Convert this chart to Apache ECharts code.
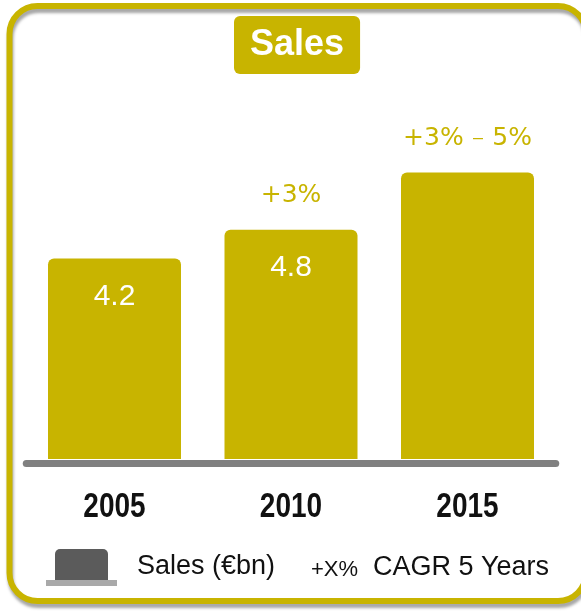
<!DOCTYPE html>
<html>
<head>
<meta charset="utf-8">
<script src="https://cdn.jsdelivr.net/npm/echarts@6/dist/echarts.min.js"></script>
<style>
  html, body { margin: 0; padding: 0; background: #ffffff; }
  #chart { width: 581px; height: 612px; }
</style>
</head>
<body>
<div id="chart"></div>
<script>
// Sales in € billions per year, with the five-year CAGR shown above each bar
const years = ['2005', '2010', '2015'];
const sales = [4.2, 4.8, 6.0];
const showValue = [true, true, false];
const cagr = [[], ['+3%'], ['+3%', '5%']];

const GOLD = '#c8b400';
const SANS = "'Liberation Sans', Arial, Helvetica, sans-serif";

const chart = echarts.init(document.getElementById('chart'), null, { renderer: 'canvas' });

chart.setOption({
  animation: false,
  backgroundColor: '#ffffff',
  title: {
    text: 'Sales',
    left: 234,
    top: 16,
    backgroundColor: GOLD,
    borderRadius: 6,
    padding: [11, 16, 11, 16],
    textStyle: {
      color: '#ffffff',
      fontFamily: SANS,
      fontWeight: 'bold',
      fontSize: 36,
      lineHeight: 36
    }
  },
  grid: { left: 26.25, right: 25.25, top: 77, bottom: 153 },
  xAxis: {
    type: 'category',
    data: years,
    offset: 4,
    axisLine: { onZero: false, lineStyle: { color: '#808080', width: 7 } },
    axisTick: { show: false },
    // year labels are drawn below as condensed text placed on the category positions
    axisLabel: { show: false }
  },
  yAxis: {
    type: 'value',
    min: 0,
    max: 8,
    show: false,
    splitLine: { show: false }
  },
  series: [
    {
      name: 'Sales (€bn)',
      type: 'bar',
      barWidth: 133,
      data: sales.map((v, i) => ({
        value: v,
        label: { show: showValue[i] }
      })),
      itemStyle: { color: GOLD, borderRadius: [6, 6, 0, 0] },
      label: {
        position: ['50%', 38],
        align: 'center',
        verticalAlign: 'middle',
        color: '#ffffff',
        fontFamily: SANS,
        fontSize: 30,
        formatter: p => p.value.toFixed(1)
      }
    },
    {
      name: 'CAGR',
      type: 'bar',
      barWidth: 133,
      barGap: '-100%',
      silent: true,
      data: sales,
      itemStyle: { color: 'rgba(0,0,0,0)' },
      label: {
        show: true,
        position: 'top',
        distance: 21,
        formatter: p => cagr[p.dataIndex].map(t => '{a|' + t + '}').join(' {d|–} '),
        rich: {
          a: {
            color: GOLD,
            fontFamily: "'DejaVu Sans', sans-serif",
            fontSize: 25,
            lineHeight: 26
          },
          d: {
            color: GOLD,
            fontFamily: SANS,
            fontSize: 18,
            lineHeight: 26,
            padding: [0, 6, 0, 6]
          }
        }
      }
    }
  ]
});

// Condensed year labels centred on each category of the x axis
const yearLabels = years.map(y => ({
  type: 'text',
  x: chart.convertToPixel({ xAxisIndex: 0 }, y),
  y: 507,
  scaleX: 0.8,
  style: {
    text: y,
    fill: '#111111',
    font: 'bold 35px ' + SANS,
    align: 'center',
    verticalAlign: 'middle'
  }
}));

chart.setOption({
  graphic: [
    {
      type: 'rect',
      z: 0,
      shape: { x: 9.5, y: 6, width: 576.5, height: 595, r: 28 },
      style: {
        fill: 'none',
        stroke: GOLD,
        lineWidth: 6,
        shadowColor: 'rgba(0,0,0,0.35)',
        shadowBlur: 3,
        shadowOffsetX: 1,
        shadowOffsetY: 4
      }
    },
    ...yearLabels,
    {
      type: 'rect',
      shape: { x: 55, y: 549, width: 53, height: 31, r: [5, 5, 0, 0] },
      style: { fill: '#5b5b5b' }
    },
    {
      type: 'rect',
      shape: { x: 46, y: 580, width: 71, height: 6 },
      style: { fill: '#a9a9a9' }
    },
    {
      type: 'text',
      x: 137,
      y: 566.5,
      style: {
        text: 'Sales (€bn)',
        fill: '#111111',
        font: '27px ' + SANS,
        verticalAlign: 'middle'
      }
    },
    {
      type: 'text',
      x: 311,
      y: 569.5,
      style: {
        text: '+X%',
        fill: '#111111',
        font: '22px ' + SANS,
        verticalAlign: 'middle'
      }
    },
    {
      type: 'text',
      x: 373,
      y: 567.5,
      style: {
        text: 'CAGR 5 Years',
        fill: '#111111',
        font: '27px ' + SANS,
        verticalAlign: 'middle'
      }
    }
  ]
});
</script>
</body>
</html>
